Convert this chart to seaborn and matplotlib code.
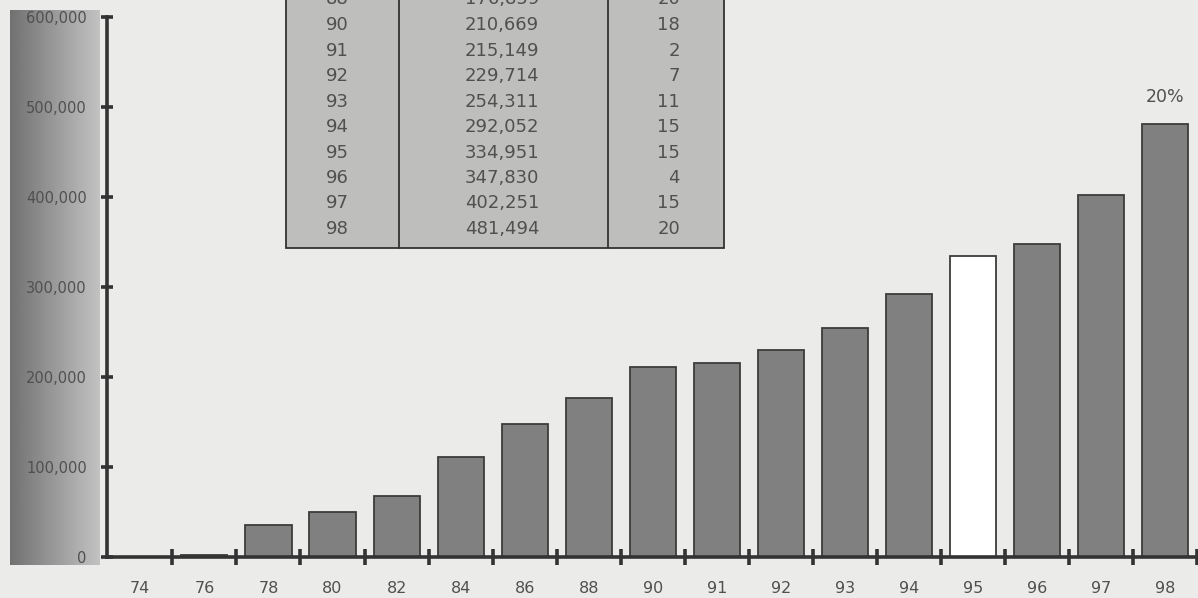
import numpy as np
import matplotlib.pyplot as plt
import seaborn as sns
from matplotlib.patches import Rectangle
from matplotlib.lines import Line2D
from matplotlib.ticker import FixedLocator, FuncFormatter

# chart data
years = ['74', '76', '78', '80', '82', '84', '86', '88', '90',
         '91', '92', '93', '94', '95', '96', '97', '98']
values = [0, 2500, 36000, 50000, 68000, 111000, 148000, 176859, 210669,
          215149, 229714, 254311, 292052, 334951, 347830, 402251, 481494]
highlight_year = '95'
last_label = '20%'

# table in the upper part (rows from 88 on are visible)
table_years = years[7:]
table_values = values[7:]
table_pct = [20, 18, 2, 7, 11, 15, 15, 4, 15, 20]

W, H = 1198, 598
BG = '#ebebe9'
BAR = '#808080'
EDGE = '#3c3c3c'
AXIS = '#333333'
TXT = '#505050'


def fx(px):
    return px / W


def fy(py):
    return 1 - py / H


sns.set_style('white')
plt.rcParams['font.family'] = ['DejaVu Sans']

fig = plt.figure(figsize=(W / 100, H / 100), dpi=100)
fig.patch.set_facecolor(BG)

# gray gradient panel behind the y tick labels
pax = fig.add_axes([fx(10), fy(565), fx(90), 555 / H], zorder=0)
grad = np.linspace(0, 1, 256).reshape(1, -1)
pax.imshow(grad, cmap='gray', vmin=-1.4, vmax=1.75, aspect='auto')
pax.axis('off')

ax = fig.add_axes([fx(107), fy(557), 1.0006 - fx(107), 540 / H], zorder=1)
ax.set_facecolor('none')

palette = {y: ('#ffffff' if y == highlight_year else BAR) for y in years}
sns.barplot(x=years, y=values, hue=years, palette=palette, legend=False,
            order=years, width=0.72, saturation=1, edgecolor=EDGE,
            linewidth=1.3, ax=ax)

ax.set_xlim(-0.52, len(years) - 0.48)
ax.set_ylim(0, 600000)
ax.set_xlabel('')
ax.set_ylabel('')

for side in ['top', 'right']:
    ax.spines[side].set_visible(False)
for side in ['left', 'bottom']:
    ax.spines[side].set_color(AXIS)
    ax.spines[side].set_linewidth(2.6)

ax.yaxis.set_major_locator(FixedLocator(range(0, 600001, 100000)))
ax.yaxis.set_major_formatter(FuncFormatter(lambda v, p: f'{int(v):,}'))
ax.tick_params(axis='y', left=True, direction='inout', length=9, width=2.6,
               color=AXIS, labelsize=10.5, labelcolor=TXT, pad=10)

ax.xaxis.set_minor_locator(FixedLocator(np.arange(0.5, len(years), 1)))
ax.tick_params(axis='x', which='major', bottom=True, length=0,
               labelsize=11.5, labelcolor=TXT, pad=17)
ax.tick_params(axis='x', which='minor', bottom=True, direction='inout',
               length=11, width=2.6, color=AXIS)

ax.text(len(years) - 1, values[-1] + 20000, last_label, ha='center',
        va='bottom', fontsize=12.5, color=TXT)

# data table, cut by the top edge of the figure as in the original
fig.add_artist(Rectangle((fx(286), fy(248)), fx(724) - fx(286), 1,
                         transform=fig.transFigure, facecolor='#bebebc',
                         edgecolor=AXIS, linewidth=1.3, zorder=3))
for px in [399, 608]:
    fig.add_artist(Line2D([fx(px), fx(px)], [fy(248), 1.1],
                          transform=fig.transFigure, color=AXIS,
                          linewidth=1.3, zorder=4))
for i, (yr, val, pct) in enumerate(zip(table_years, table_values, table_pct)):
    ypos = fy(-0.5 + 25.5 * i)
    kw = dict(transform=fig.transFigure, va='center', fontsize=13,
              color=TXT, zorder=5)
    fig.text(fx(337), ypos, yr, ha='center', **kw)
    fig.text(fx(502), ypos, f'{val:,}', ha='center', **kw)
    fig.text(fx(680), ypos, str(pct), ha='right', **kw)

fig.savefig('out.png', dpi=100, facecolor=BG)
